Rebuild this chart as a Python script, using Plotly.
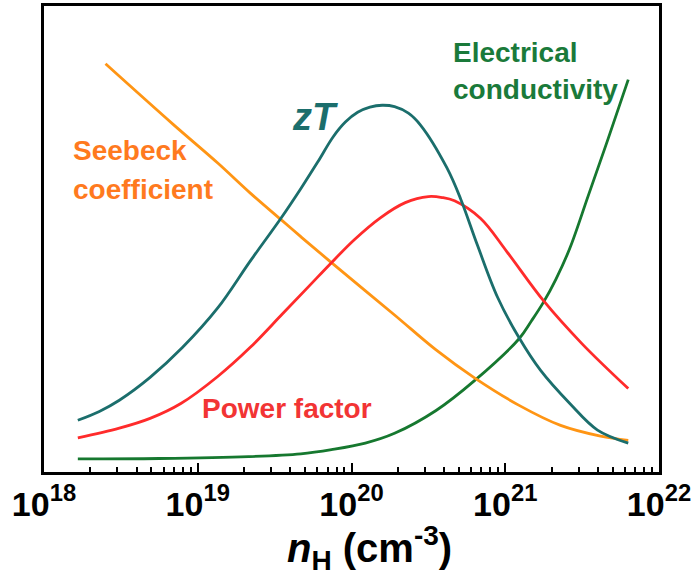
import plotly.graph_objects as go

# Carrier concentration given as log10(n_H / cm^-3); property values in arbitrary units (0-100)
zt_logn = [18.22, 18.36, 18.49, 18.69, 18.90, 19.13, 19.34, 19.54, 19.67, 19.78, 19.88,
           19.96, 20.04, 20.12, 20.20, 20.28, 20.37, 20.45, 20.62, 20.71, 20.82,
           20.95, 21.09, 21.23, 21.42, 21.60, 21.80]
zt_val = [11.1, 13.0, 15.4, 20.3, 26.7, 35.2, 45.2, 54.4, 60.8, 66.5, 71.9,
          75.1, 77.2, 78.3, 78.7, 78.4, 77.0, 74.4, 65.3, 58.6, 48.6,
          37.5, 28.8, 21.8, 14.7, 9.0, 6.2]

pf_logn = [18.22, 18.49, 18.69, 18.89, 19.13, 19.34, 19.55, 19.73, 19.86, 20.02,
           20.19, 20.35, 20.50, 20.59, 20.67, 20.84, 21.01, 21.25, 21.50, 21.80]
pf_val = [7.3, 9.4, 11.5, 14.7, 20.5, 26.7, 33.9, 40.1, 44.6, 49.9,
          54.6, 57.8, 59.1, 58.9, 58.2, 54.4, 47.3, 36.7, 27.5, 17.9]

seebeck_logn = [18.40, 18.84, 19.13, 19.34, 19.54, 19.67, 19.86, 20.28, 20.55, 20.80,
                21.09, 21.36, 21.62, 21.80]
seebeck_val = [87.6, 74.6, 66.3, 59.9, 54.2, 50.5, 45.2, 33.7, 26.2, 20.2,
               14.3, 10.0, 7.7, 6.8]

sigma_logn = [18.22, 18.75, 19.33, 19.67, 19.87, 20.09, 20.28, 20.55, 20.80, 21.09,
              21.17, 21.25, 21.33, 21.42, 21.54, 21.67, 21.80]
sigma_val = [2.8, 2.9, 3.3, 3.9, 4.8, 6.2, 8.3, 13.2, 19.6, 28.6,
             32.4, 36.5, 41.4, 48.0, 59.3, 71.6, 84.2]

decades = [18, 19, 20, 21, 22]
tick_text = [f"10<sup>{d}</sup>" for d in decades]

TEAL = "#1B6E6C"
RED = "#FF2B2B"
ORANGE = "#FF9514"
GREEN = "#16782F"

FONT = "Liberation Sans, Arial, Helvetica, sans-serif"


def trace(logn, val, color):
    return go.Scatter(
        x=[10.0 ** v for v in logn], y=val, mode="lines",
        line=dict(color=color, width=2.8, shape="spline", smoothing=1.0),
        hoverinfo="skip", showlegend=False,
    )


fig = go.Figure()
fig.add_trace(trace(sigma_logn, sigma_val, GREEN))
fig.add_trace(trace(seebeck_logn, seebeck_val, ORANGE))
fig.add_trace(trace(pf_logn, pf_val, RED))
fig.add_trace(trace(zt_logn, zt_val, TEAL))

minor_vals = [k * 10.0 ** d for d in decades[:-1] for k in range(2, 10)]

fig.update_xaxes(
    type="log", range=[18, 22],
    tickvals=[10.0 ** d for d in decades], ticktext=tick_text,
    tickfont=dict(family=FONT, size=34, color="black", weight="bold"),
    ticks="inside", ticklen=9, tickwidth=2, tickcolor="black",
    minor=dict(tickvals=minor_vals, ticks="inside", ticklen=5, tickwidth=1.5,
               tickcolor="black", showgrid=False),
    showline=True, linecolor="black", linewidth=2.5, mirror=True,
    showgrid=False, zeroline=False,
)
fig.update_yaxes(
    range=[0, 100], showticklabels=False, ticks="",
    showline=True, linecolor="black", linewidth=2.5, mirror=True,
    showgrid=False, zeroline=False,
)

PLOT_L, PLOT_R, PLOT_T, PLOT_B = 44, 659, 3, 472


def px(xp, yp):
    return (xp - PLOT_L) / (PLOT_R - PLOT_L), (PLOT_B - yp) / (PLOT_B - PLOT_T)


def label(text, xp, yp, color, size=28, xanchor="left", italic=False):
    x, y = px(xp, yp)
    fig.add_annotation(
        text=text, x=x, y=y, xref="paper", yref="paper",
        xanchor=xanchor, yanchor="middle", showarrow=False,
        font=dict(family=FONT, size=size, color=color, weight="bold",
                  style="italic" if italic else "normal"),
    )


label("zT", 315, 115, TEAL, size=38, xanchor="center", italic=True)
label("Seebeck", 71, 148, "#FF7A1E")
label("coefficient", 71, 188, "#FF7A1E")
label("Electrical", 451, 50, "#1A7A3A")
label("conductivity", 451, 87, "#1A7A3A")
label("Power factor", 200, 408, "#F23434")

# Axis title
tx, ty = px(369, 548)
fig.add_annotation(
    text="<i>n</i><sub>H</sub> (cm<sup>-3</sup>)", x=tx, y=ty,
    xref="paper", yref="paper", xanchor="center", yanchor="middle",
    showarrow=False, font=dict(family=FONT, size=40, color="black", weight="bold"),
)

fig.update_layout(
    width=694, height=587,
    margin=dict(l=PLOT_L, r=694 - PLOT_R, t=PLOT_T, b=587 - PLOT_B),
    paper_bgcolor="white", plot_bgcolor="white",
)

fig.write_html("out.html")
